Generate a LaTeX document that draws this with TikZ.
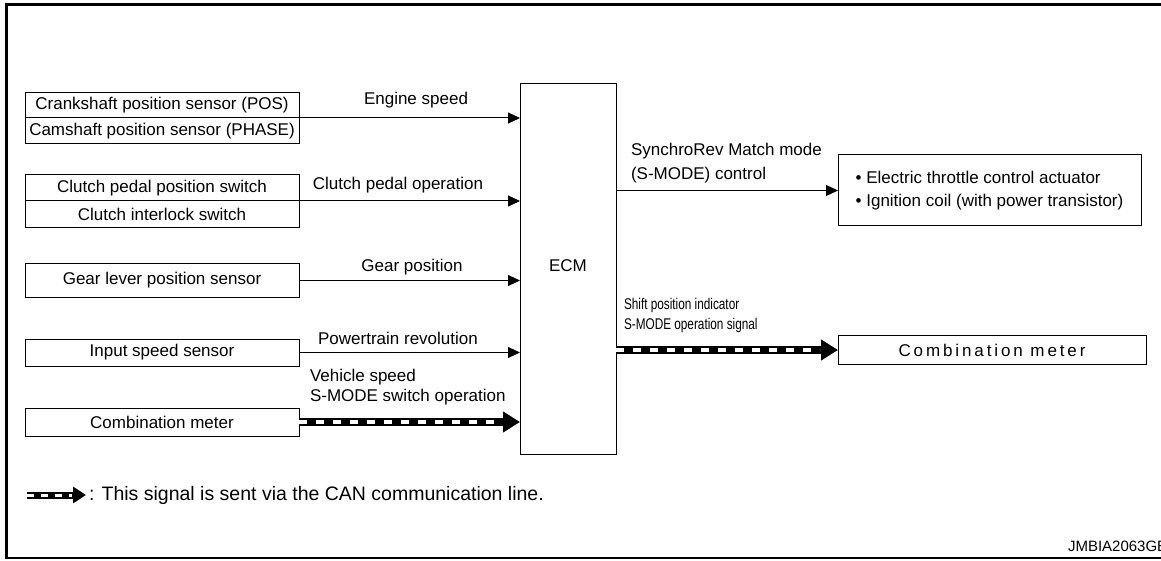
\documentclass[tikz,border=0pt]{standalone}
\usepackage{fontspec}
\setmainfont{Liberation Sans}
\newfontfamily\narrowfont[FakeStretch=0.76]{Liberation Sans}
\newfontfamily\spacedfont[LetterSpace=17]{Liberation Sans}
\usetikzlibrary{arrows.meta,calc}
\begin{document}
\begin{tikzpicture}[x=1pt,y=-1pt,
  every node/.style={inner sep=0pt,outer sep=0pt},
  box/.style={draw,line width=1pt,minimum width=#1,anchor=center,font=\fontsize{17}{20}\selectfont},
  box/.default=274pt,
  lbl/.style={font=\fontsize{17}{20}\selectfont},
  small/.style={font=\narrowfont\fontsize{15.5}{20}\selectfont},
  sig/.style={line width=1pt,-{Triangle[length=12pt,width=11pt]}},
  canback/.style={line width=8pt,-{Triangle[length=17pt,width=20pt]}},
  canfront/.style={line width=3.4pt,white,dash pattern=on 8pt off 9pt}
]
\useasboundingbox (0,0) rectangle (1161,561);
% frame
\draw[line width=3pt] (1165,5) -- (6,5) -- (6,558);
\draw[line width=2pt] (5,558) -- (1165,558);

% left boxes
\node[box,minimum height=25pt] (crank) at (162,105.5) {Crankshaft position sensor (POS)};
\node[box,minimum height=26pt] (cam) at (162,131) {Camshaft position sensor (PHASE)};
\node[box,minimum height=26pt] (clsw) at (162,188) {Clutch pedal position switch};
\node[box,minimum height=27pt] (inter) at (162,214.5) {Clutch interlock switch};
\node[box,minimum height=33pt] (gear) at (162,280.5) {Gear lever position sensor};
\node[box,minimum height=27pt] (input) at (162,352.5) {Input speed sensor};
\node[box,minimum height=28pt] (combl) at (162,422) {Combination meter};

% ECM
\node[box,minimum width=96pt,minimum height=370pt] (ecm) at (568,269) {};
\node[lbl] (ecmtxt) at (ecm.center) [yshift=3pt] {ECM};

% right boxes
\node[box,minimum width=303pt,minimum height=71pt,align=left,font=\fontsize{17}{23}\selectfont] (thr) at (989.5,190.5)
  {\textbullet\ Electric throttle control actuator\\\textbullet\ Ignition coil (with power transistor)};
\node[box,minimum width=308pt,minimum height=29pt,font=\spacedfont\fontsize{17}{20}\selectfont] (combr) at (992,350) {Combination meter};

% input arrows
\draw[sig] (crank.south east) -- (crank.south east -| ecm.west);
\node[lbl] (l1) at (416,100) {Engine speed};
\draw[sig] (clsw.south east) -- (clsw.south east -| ecm.west);
\node[lbl] (l2) at (398,185) {Clutch pedal operation};
\draw[sig] (gear.east) -- (gear.east -| ecm.west);
\node[lbl] (l3) at (412,267) {Gear position};
\draw[sig] (input.east) -- (input.east -| ecm.west);
\node[lbl] (l4) at (398,338) {Powertrain revolution};
\draw[canback] (combl.east) -- (combl.east -| ecm.west);
\draw[canfront] (combl.east) -- ($(combl.east -| ecm.west)+(-18,0)$);
\node[lbl,align=left,anchor=west] (l5) at (310,387) {Vehicle speed\\S-MODE switch operation};

% output arrows
\draw[sig] (ecm.east |- thr.west) -- (thr.west);
\node[lbl,align=left,anchor=west,font=\fontsize{17}{24}\selectfont] (l6) at (631,163) {SynchroRev Match mode\\(S-MODE) control};
\draw[canback] (ecm.east |- combr.west) -- (combr.west);
\draw[canfront] (ecm.east |- combr.west) -- ($(combr.west)+(-18,0)$);
\node[small,align=left,anchor=west] (l7) at (624,315) {Shift position indicator\\S-MODE operation signal};

% legend
\coordinate (lg1) at (27,495);
\coordinate (lg2) at (86,495);
\draw[line width=7pt,-{Triangle[length=13pt,width=16pt]}] (lg1) -- (lg2);
\draw[line width=3pt,white,dash pattern=on 7pt off 7pt] (lg1) -- ($(lg2)+(-14,0)$);
\node[anchor=west,font=\fontsize{19.5}{22}\selectfont] (leg) at (89,495) {: This signal is sent via the CAN communication line.};
\node[anchor=west,font=\fontsize{15}{18}\selectfont] (code) at (1068,546) {JMBIA2063GB};
\end{tikzpicture}
\end{document}
